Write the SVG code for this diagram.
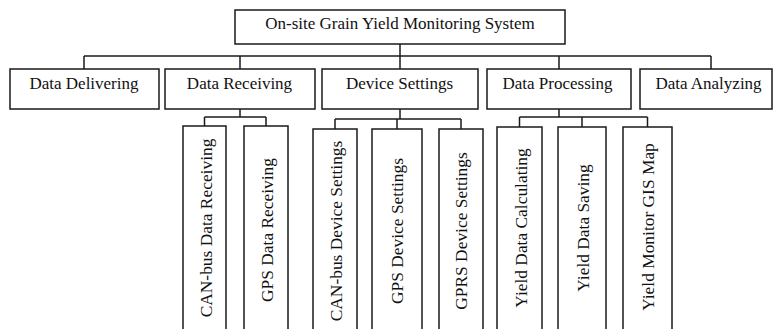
<svg xmlns="http://www.w3.org/2000/svg" width="773" height="329" viewBox="0 0 773 329">
<style>
rect{fill:#fff;stroke:#1a1a1a;stroke-width:1.5}
.c line{stroke:#1a1a1a;stroke-width:1.5}
text{font-family:"Liberation Serif","Times New Roman",serif;font-size:17px;fill:#111;text-anchor:middle}
.v{font-size:17.4px}
</style>
<rect x="0" y="0" width="773" height="329" style="stroke:none"/>
<g class="c" id="connectors">
<line x1="400" y1="44" x2="400" y2="56"/>
<line x1="84" y1="56" x2="711" y2="56"/>
<line x1="84" y1="56" x2="84" y2="69"/>
<line x1="240" y1="56" x2="240" y2="69"/>
<line x1="400" y1="56" x2="400" y2="69"/>
<line x1="559" y1="56" x2="559" y2="69"/>
<line x1="711" y1="56" x2="711" y2="69"/>
<line x1="240" y1="109" x2="240" y2="117"/>
<line x1="204.5" y1="117" x2="266" y2="117"/>
<line x1="204.5" y1="117" x2="204.5" y2="126"/>
<line x1="266" y1="117" x2="266" y2="126"/>
<line x1="400" y1="109" x2="400" y2="119"/>
<line x1="335" y1="119" x2="461" y2="119"/>
<line x1="335" y1="119" x2="335" y2="129"/>
<line x1="397" y1="119" x2="397" y2="129"/>
<line x1="461" y1="119" x2="461" y2="129"/>
<line x1="559" y1="109" x2="559" y2="117"/>
<line x1="519.5" y1="117" x2="647.5" y2="117"/>
<line x1="519.5" y1="117" x2="519.5" y2="127"/>
<line x1="582" y1="117" x2="582" y2="127"/>
<line x1="647.5" y1="117" x2="647.5" y2="127"/>
</g>
<g id="root"><rect x="235" y="10" width="330" height="34"/><text x="400" y="29">On-site Grain Yield Monitoring System</text></g>
<g id="data-delivering"><rect x="10" y="69" width="149" height="40"/><text x="84" y="89">Data Delivering</text></g>
<g id="data-receiving"><rect x="165" y="69" width="150" height="40"/><text x="239.5" y="89">Data Receiving</text></g>
<g id="device-settings"><rect x="322" y="69" width="156" height="40"/><text x="399.5" y="89">Device Settings</text></g>
<g id="data-processing"><rect x="487" y="69" width="144" height="40"/><text x="557.5" y="89">Data Processing</text></g>
<g id="data-analyzing"><rect x="640" y="69" width="132" height="40"/><text x="708.5" y="89">Data Analyzing</text></g>
<g id="can-data-receiving"><rect x="183" y="126" width="43" height="210"/><text class="v" transform="translate(212,228) rotate(-90)">CAN-bus Data Receiving</text></g>
<g id="gps-data-receiving"><rect x="244" y="126" width="44" height="210"/><text class="v" transform="translate(273,230) rotate(-90)">GPS Data Receiving</text></g>
<g id="can-device-settings"><rect x="313" y="129" width="44" height="210"/><text class="v" transform="translate(342,231) rotate(-90)">CAN-bus Device Settings</text></g>
<g id="gps-device-settings"><rect x="372" y="129" width="50" height="210"/><text class="v" transform="translate(403,231) rotate(-90)">GPS Device Settings</text></g>
<g id="gprs-device-settings"><rect x="439" y="129" width="44" height="210"/><text class="v" transform="translate(467,231) rotate(-90)">GPRS Device Settings</text></g>
<g id="yield-data-calculating"><rect x="497" y="127" width="45" height="210"/><text class="v" transform="translate(527,228) rotate(-90)">Yield Data Calculating</text></g>
<g id="yield-data-saving"><rect x="558" y="127" width="48" height="210"/><text class="v" transform="translate(589,228) rotate(-90)">Yield Data Saving</text></g>
<g id="yield-monitor-gis-map"><rect x="623" y="127" width="49" height="210"/><text class="v" transform="translate(654,227) rotate(-90)">Yield Monitor GIS Map</text></g>
</svg>
